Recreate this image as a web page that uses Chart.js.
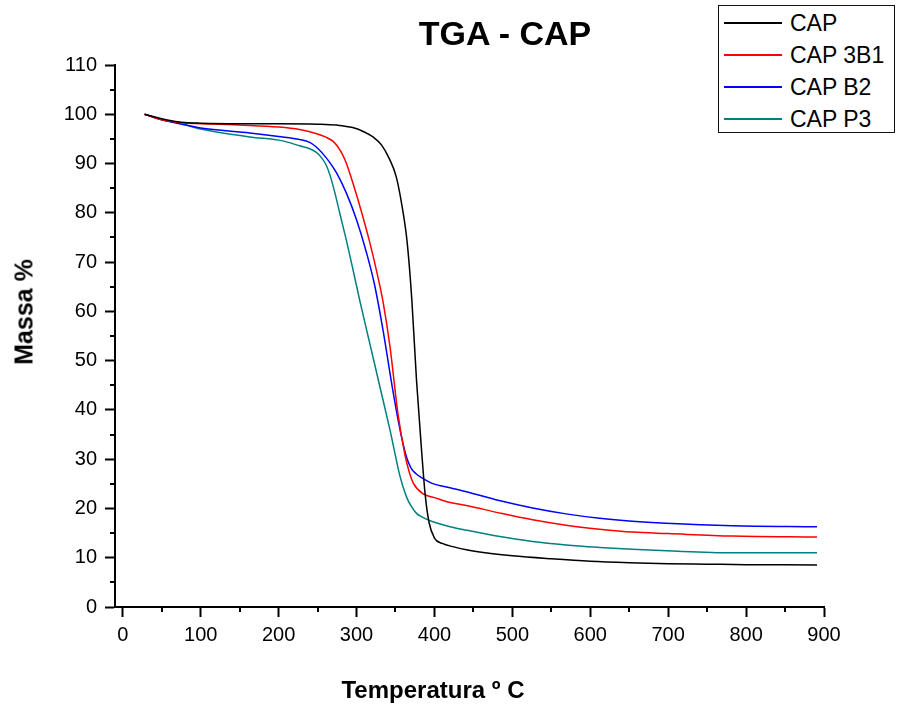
<!DOCTYPE html>
<html>
<head>
<meta charset="utf-8">
<title>TGA - CAP</title>
<script src="https://cdn.jsdelivr.net/npm/chart.js@4.4.1/dist/chart.umd.min.js"></script>
<style>
    body { margin: 0; background: #fff; font-family: 'Liberation Sans', Arial, sans-serif; }
    #wrap { position: relative; width: 897px; height: 710px; }
    #tga { position: absolute; left: 0; top: 0; }
    .lbl { position: absolute; font-weight: bold; color: #000; line-height: 1; white-space: nowrap; transform: translate(-50%, -50%); }
    #legend { position: absolute; left: 718px; top: 5px; width: 177px; height: 128px; border: 1px solid #111; box-sizing: border-box; background: #fff; }
    .row { position: absolute; left: 0; height: 24px; width: 100%; }
    .row .sw { position: absolute; left: 5px; top: 11px; width: 58px; height: 1.5px; }
    .row .tx { position: absolute; left: 71px; top: 0; font-size: 23px; line-height: 24px; color: #000; }
</style>
</head>
<body>
<div id="wrap">
    <canvas id="tga" width="897" height="710"></canvas>
    <div class="lbl" style="left:505px; top:33px; font-size:34px;">TGA - CAP</div>
    <div class="lbl" style="left:433px; top:690px; font-size:24px;">Temperatura º C</div>
    <div class="lbl" style="left:24px; top:312px; font-size:25px; transform: translate(-50%, -50%) rotate(-90deg);">Massa %</div>
    <div id="legend"></div>
</div>
<script>
// series names and colours
const seriesNames = ['CAP', 'CAP 3B1', 'CAP B2', 'CAP P3'];
const seriesColors = ['#000000', '#ff0000', '#0000ff', '#008080'];

// temperature (ºC) / mass (%)
const capT = [28, 50, 75, 100, 150, 200, 250, 275, 295, 310, 322, 332, 342, 351, 359, 365, 371, 377, 383, 388, 393, 400, 410, 425, 441, 465, 500, 550, 600, 650, 700, 750, 800, 850, 891];
const capM = [100, 99.1, 98.4, 98.2, 98.1, 98.1, 98.0, 97.8, 97.3, 96.4, 95.3, 93.8, 91.0, 87.3, 80.8, 74.0, 62.3, 46.0, 32.8, 23.0, 17.2, 14.0, 12.9, 12.2, 11.6, 11.0, 10.4, 9.8, 9.3, 9.0, 8.8, 8.7, 8.6, 8.55, 8.5];

const cap3b1T = [28, 50, 75, 100, 150, 200, 227, 248, 260, 270, 276, 283, 288, 294, 304, 317, 327, 334, 343, 353, 362, 368, 373, 385, 400, 420, 441, 483, 526, 569, 612, 654, 700, 782, 891];
const cap3b1M = [100, 98.9, 98.3, 98.1, 97.8, 97.4, 96.9, 96.1, 95.4, 94.5, 93.4, 91.5, 89.6, 86.7, 81.5, 74.0, 67.3, 62.0, 52.8, 39.4, 31.0, 27.2, 25.1, 23.0, 22.2, 21.2, 20.6, 19.1, 17.7, 16.6, 15.8, 15.2, 14.9, 14.4, 14.2];

const capB2T = [28, 50, 75, 100, 163, 200, 227, 240, 248, 261, 274, 287, 300, 313, 323, 334, 346, 355, 364, 370, 376, 385, 397, 420, 441, 483, 526, 569, 612, 654, 697, 782, 891];
const capB2M = [100, 98.9, 98.0, 97.2, 96.2, 95.5, 94.9, 94.3, 93.4, 91.2, 88.2, 84.0, 78.6, 71.8, 65.5, 56.2, 44.5, 36.6, 30.5, 28.2, 27.1, 26.1, 25.1, 24.2, 23.4, 21.6, 20.1, 18.9, 18.0, 17.4, 17.0, 16.5, 16.3];

const capP3T = [28, 50, 75, 100, 163, 205, 227, 240, 248, 255, 261, 266, 272, 279, 287, 295, 304, 313, 330, 343, 356, 364, 370, 377, 385, 398, 420, 441, 484, 526, 569, 612, 654, 698, 782, 891];
const capP3M = [100, 98.9, 98.1, 97.0, 95.4, 94.6, 93.6, 93.0, 92.3, 91.2, 89.7, 87.6, 84.2, 79.6, 74.4, 68.8, 62.3, 56.2, 44.7, 35.9, 26.4, 22.4, 20.5, 19.0, 18.2, 17.3, 16.3, 15.6, 14.3, 13.3, 12.6, 12.1, 11.7, 11.4, 11.0, 11.0];

// axis ranges and tick labels
const xMin = -10, xMax = 900;
const yMin = 0, yMax = 110;
const xTicks = [0, 100, 200, 300, 400, 500, 600, 700, 800, 900];
const yTicks = [0, 10, 20, 30, 40, 50, 60, 70, 80, 90, 100, 110];
const xMinor = [50, 150, 250, 350, 450, 550, 650, 750, 850];
const yMinor = [5, 15, 25, 35, 45, 55, 65, 75, 85, 95, 105];

const seriesT = [capT, cap3b1T, capB2T, capP3T];
const seriesM = [capM, cap3b1M, capB2M, capP3M];

const datasets = seriesNames.map((name, i) => ({
    label: name,
    data: seriesT[i].map((t, j) => ({ x: t, y: seriesM[i][j] })),
    borderColor: seriesColors[i],
    borderWidth: 1.5,
    pointRadius: 0,
    fill: false,
    cubicInterpolationMode: 'monotone'
}));

// short minor ticks between the labelled ones
const minorTicks = {
    id: 'minorTicks',
    afterDraw(chart) {
        const { ctx, scales: { x, y } } = chart;
        ctx.save();
        ctx.strokeStyle = '#000';
        ctx.lineWidth = 2;
        ctx.beginPath();
        xMinor.forEach(v => {
            const px = Math.round(x.getPixelForValue(v));
            ctx.moveTo(px, y.bottom);
            ctx.lineTo(px, y.bottom + 5);
        });
        yMinor.forEach(v => {
            const py = Math.round(y.getPixelForValue(v));
            ctx.moveTo(x.left, py);
            ctx.lineTo(x.left - 5, py);
        });
        ctx.stroke();
        ctx.restore();
    }
};

const tickFont = { family: "'Liberation Sans', Arial, sans-serif", size: 20 };

const chart = new Chart(document.getElementById('tga'), {
    type: 'line',
    data: { datasets },
    options: {
        responsive: false,
        animation: false,
        layout: { padding: { top: 65, right: 73, left: 0, bottom: 0 } },
        plugins: {
            legend: { display: false },
            tooltip: { enabled: false }
        },
        scales: {
            x: {
                type: 'linear',
                min: xMin,
                max: xMax,
                afterBuildTicks: (s) => { s.ticks = xTicks.map(v => ({ value: v })); },
                afterFit: (s) => { s.height = 103; },
                ticks: { font: tickFont, color: '#000', padding: 6, maxRotation: 0, autoSkip: false },
                grid: { drawOnChartArea: false, tickLength: 10, tickWidth: 2, tickColor: '#000' },
                border: { color: '#000', width: 2 }
            },
            y: {
                type: 'linear',
                min: yMin,
                max: yMax,
                afterBuildTicks: (s) => { s.ticks = yTicks.map(v => ({ value: v })); },
                afterFit: (s) => { s.width = 115; },
                ticks: { font: tickFont, color: '#000', padding: 8, autoSkip: false },
                grid: { drawOnChartArea: false, tickLength: 10, tickWidth: 2, tickColor: '#000' },
                border: { color: '#000', width: 2 }
            }
        }
    },
    plugins: [minorTicks]
});

// legend box built from the datasets
const legend = document.getElementById('legend');
chart.data.datasets.forEach((ds, i) => {
    const row = document.createElement('div');
    row.className = 'row';
    row.style.top = (5 + i * 32) + 'px';
    row.innerHTML = '<div class="sw" style="background:' + ds.borderColor + '"></div><div class="tx">' + ds.label + '</div>';
    legend.appendChild(row);
});
</script>
</body>
</html>
